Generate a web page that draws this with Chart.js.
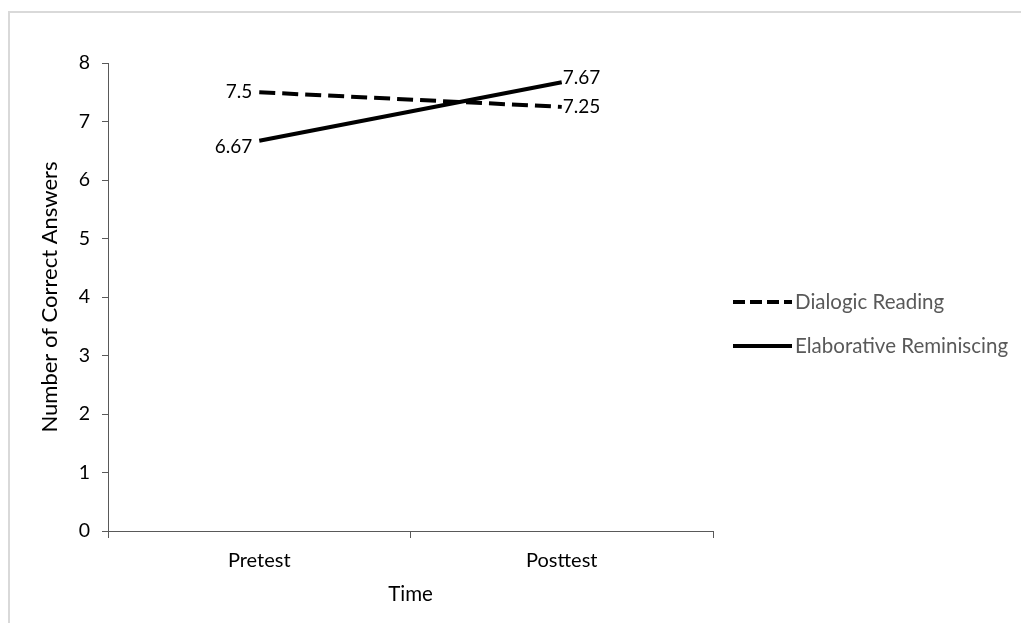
<!DOCTYPE html>
<html>
<head>
<meta charset="utf-8">
<script src="https://cdn.jsdelivr.net/npm/chart.js@4.4.1/dist/chart.umd.min.js"></script>
<style>
  html, body { margin: 0; padding: 0; background: #fff; overflow: hidden; }
  #frame { position: absolute; left: 8px; top: 11px; width: 1100px; height: 700px;
           border-left: 2px solid #d9d9d9; border-top: 2px solid #d9d9d9; }
  #wrap { position: absolute; left: 0; top: 0; width: 1021px; height: 623px; }
</style>
</head>
<body>
<div id="frame"></div>
<div id="wrap"><canvas id="chart"></canvas></div>
<script>
// Data
const timeLabels = ["Pretest", "Posttest"];
const dialogicReading = [7.5, 7.25];
const elaborativeReminiscing = [6.67, 7.67];
const seriesNames = ["Dialogic Reading", "Elaborative Reminiscing"];

const FONT = "Lato, 'Open Sans', sans-serif";
const AXIS = "#595959";

// value labels beside the end points
const valueLabels = {
  id: "valueLabels",
  afterDatasetsDraw(chart, args, opts) {
    const ctx = chart.ctx;
    ctx.save();
    ctx.font = "19px " + FONT;
    ctx.fillStyle = "#000";
    ctx.textBaseline = "middle";
    chart.data.datasets.forEach((ds, i) => {
      chart.getDatasetMeta(i).data.forEach((pt, j) => {
        const first = j === 0;
        const dy = (opts.nudge[i] || [])[j] || 0;
        ctx.textAlign = first ? "right" : "left";
        ctx.fillText(String(ds.data[j]), pt.x + (first ? -7 : 1), pt.y + dy);
      });
    });
    ctx.restore();
  }
};

// legend on the right, line samples like the original
const sideLegend = {
  id: "sideLegend",
  afterDraw(chart, args, opts) {
    const ctx = chart.ctx;
    const x0 = chart.chartArea.right + 20;
    ctx.save();
    chart.data.datasets.forEach((ds, i) => {
      const y = opts.rows[i];
      ctx.beginPath();
      ctx.setLineDash(ds.borderDash ? opts.dash : []);
      ctx.lineWidth = ds.borderWidth;
      ctx.strokeStyle = ds.borderColor;
      ctx.moveTo(x0, y);
      ctx.lineTo(x0 + 59, y);
      ctx.stroke();
      ctx.setLineDash([]);
      ctx.font = "20.5px " + FONT;
      ctx.fillStyle = "#595959";
      ctx.textAlign = "left";
      ctx.textBaseline = "middle";
      ctx.fillText(ds.label, x0 + 62, y);
    });
    ctx.restore();
  }
};

new Chart(document.getElementById("chart"), {
  type: "line",
  data: {
    labels: timeLabels,
    datasets: [
      {
        label: seriesNames[0],
        data: dialogicReading,
        borderColor: "#000",
        borderWidth: 4,
        borderDash: [16, 7],
        pointRadius: 0,
        tension: 0
      },
      {
        label: seriesNames[1],
        data: elaborativeReminiscing,
        borderColor: "#000",
        borderWidth: 4,
        pointRadius: 0,
        tension: 0
      }
    ]
  },
  options: {
    responsive: true,
    maintainAspectRatio: false,
    animation: false,
    layout: { padding: { left: 0, top: 63, right: 308, bottom: 0 } },
    plugins: {
      legend: { display: false },
      tooltip: { enabled: false },
      valueLabels: { nudge: [[0, 0], [6, -4]] },
      sideLegend: { rows: [302, 346], dash: [12, 5] }
    },
    scales: {
      x: {
        offset: true,
        grid: { drawOnChartArea: false, drawTicks: true, tickLength: 7, color: AXIS, offset: true },
        border: { color: AXIS, width: 1 },
        ticks: { color: "#000", font: { family: FONT, size: 20 }, padding: 11 },
        title: { display: true, text: "Time", color: "#000", font: { family: FONT, size: 20.5 }, padding: { top: 4, bottom: 16 } },
        afterFit(s) { s.height = 92; }
      },
      y: {
        min: 0,
        max: 8,
        ticks: { stepSize: 1, color: "#000", font: { family: FONT, size: 19.5 }, padding: 12 },
        grid: { drawOnChartArea: false, drawTicks: true, tickLength: 6, color: AXIS },
        border: { color: AXIS, width: 1 },
        title: { display: true, text: "Number of Correct Answers", color: "#000", font: { family: FONT, size: 22 }, padding: { top: 37, bottom: 0 } },
        afterFit(s) { s.width = 108; }
      }
    }
  },
  plugins: [valueLabels, sideLegend]
});
</script>
</body>
</html>
